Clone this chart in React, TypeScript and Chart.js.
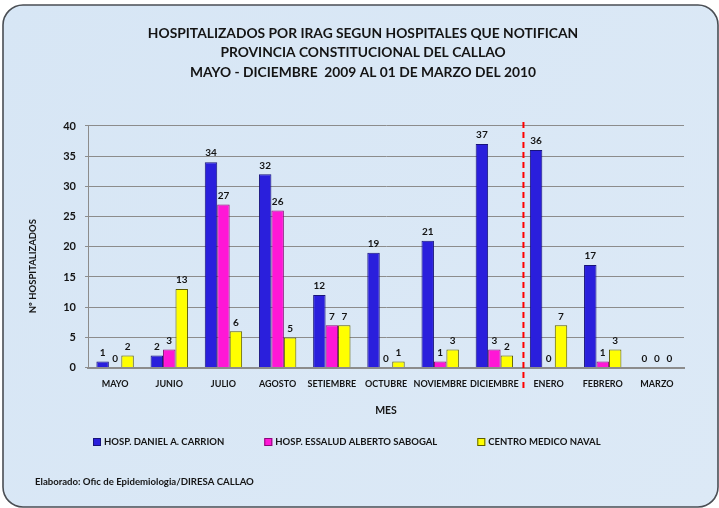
import React, { useEffect, useRef } from "react";
import { Chart, registerables } from "chart.js";

Chart.register(...registerables);

const categories = ["MAYO", "JUNIO", "JULIO", "AGOSTO", "SETIEMBRE", "OCTUBRE", "NOVIEMBRE", "DICIEMBRE", "ENERO", "FEBRERO", "MARZO"];
const carrion = [1, 2, 34, 32, 12, 19, 21, 37, 36, 17, 0];
const sabogal = [0, 3, 27, 26, 7, 0, 1, 3, 0, 1, 0];
const naval = [2, 13, 6, 5, 7, 1, 3, 2, 7, 3, 0];
const seriesNames = ["HOSP. DANIEL A. CARRION", "HOSP. ESSALUD ALBERTO SABOGAL", "CENTRO MEDICO NAVAL"];
const titleLines = [
  "HOSPITALIZADOS POR IRAG SEGUN HOSPITALES QUE NOTIFICAN",
  "PROVINCIA CONSTITUCIONAL DEL CALLAO",
  "MAYO - DICIEMBRE  2009 AL 01 DE MARZO DEL 2010",
];
const yAxisTitle = "Nº HOSPITALIZADOS";
const footerText = "Elaborado: Ofic de Epidemiologia/DIRESA CALLAO";
const dividerAfterIndex = 7;

const FONT = "Lato, 'Open Sans', sans-serif";
const INK = "#141414";

const backgroundPlugin = {
  id: "bgPanel",
  beforeDraw(chart: any) {
    const { ctx, width, height } = chart;
    ctx.save();
    ctx.fillStyle = "#ffffff";
    ctx.fillRect(0, 0, width, height);
    const x = 3, y = 5, w = width - 4, h = height - 6, r = 20;
    ctx.beginPath();
    ctx.moveTo(x + r, y);
    ctx.arcTo(x + w, y, x + w, y + r, r);
    ctx.arcTo(x + w, y + h, x + w - r, y + h, r);
    ctx.arcTo(x, y + h, x, y + h - r, r);
    ctx.arcTo(x, y, x + r, y, r);
    ctx.closePath();
    const g = ctx.createLinearGradient(0, 0, width, height);
    g.addColorStop(0, "#d7e6f5");
    g.addColorStop(1, "#dce9f6");
    ctx.fillStyle = g;
    ctx.fill();
    ctx.lineWidth = 1.6;
    ctx.strokeStyle = "#4a4e54";
    ctx.stroke();
    ctx.restore();
  },
};

const valueLabelPlugin = {
  id: "valueLabels",
  afterDatasetsDraw(chart: any) {
    const { ctx } = chart;
    ctx.save();
    ctx.font = `bold 10px ${FONT}`;
    ctx.fillStyle = INK;
    ctx.textAlign = "center";
    ctx.textBaseline = "bottom";
    chart.data.datasets.forEach((ds: any, i: number) => {
      const meta = chart.getDatasetMeta(i);
      meta.data.forEach((bar: any, j: number) => {
        ctx.fillText(String(ds.data[j]), bar.x, bar.y - 4);
      });
    });
    ctx.restore();
  },
};

const dividerPlugin = {
  id: "divider",
  afterDraw(chart: any) {
    const { ctx } = chart;
    const xs = chart.scales.x;
    const x = (xs.getPixelForValue(dividerAfterIndex) + xs.getPixelForValue(dividerAfterIndex + 1)) / 2 + 2;
    const area = chart.chartArea;
    ctx.save();
    ctx.strokeStyle = "#ff0000";
    ctx.lineWidth = 2;
    ctx.setLineDash([6, 4]);
    ctx.beginPath();
    ctx.moveTo(x, area.top - 4);
    ctx.lineTo(x, area.bottom + 24);
    ctx.stroke();
    ctx.restore();
  },
};

const textPlugin = {
  id: "extraText",
  afterDraw(chart: any) {
    const { ctx } = chart;
    const area = chart.chartArea;
    // y axis title
    ctx.save();
    ctx.translate(33, area.top + (area.bottom - area.top) * 0.58);
    ctx.rotate(-Math.PI / 2);
    ctx.font = `bold 9.5px ${FONT}`;
    ctx.fillStyle = INK;
    ctx.textAlign = "center";
    ctx.textBaseline = "middle";
    ctx.fillText(yAxisTitle, 0, 0);
    ctx.restore();

    // legend
    ctx.save();
    ctx.font = `bold 9.5px ${FONT}`;
    ctx.textBaseline = "middle";
    ctx.textAlign = "left";
    let x = 93;
    const yc = 442;
    chart.data.datasets.forEach((ds: any) => {
      ctx.fillStyle = ds.backgroundColor;
      ctx.fillRect(x, yc - 4, 8, 8);
      ctx.strokeStyle = ds.borderColor;
      ctx.lineWidth = 1;
      ctx.strokeRect(x + 0.5, yc - 3.5, 7, 7);
      ctx.fillStyle = INK;
      ctx.fillText(ds.label, x + 11, yc);
      x += 11 + ctx.measureText(ds.label).width + 40;
    });
    ctx.restore();

    // footer
    ctx.save();
    ctx.font = `bold 9.6px ${FONT}`;
    ctx.fillStyle = INK;
    ctx.textBaseline = "middle";
    ctx.textAlign = "left";
    ctx.fillText(footerText, 35, 482);
    ctx.restore();
  },
};

export default function App() {
  const ref = useRef<HTMLCanvasElement>(null);
  useEffect(() => {
    document.body.style.margin = "0";
    const canvas = ref.current!;
    const chart = new Chart(canvas, {
      type: "bar",
      data: {
        labels: categories,
        datasets: [
          { label: seriesNames[0], data: carrion, backgroundColor: "#2a1fdc", borderColor: "#17137a", borderWidth: 1 },
          { label: seriesNames[1], data: sabogal, backgroundColor: "#ff17d6", borderColor: "#8a0a78", borderWidth: 1 },
          { label: seriesNames[2], data: naval, backgroundColor: "#ffff00", borderColor: "#5c5c00", borderWidth: 1 },
        ],
      },
      options: {
        animation: false,
        responsive: false,
        maintainAspectRatio: false,
        layout: { padding: { left: 42, right: 35, top: 24, bottom: 91 } },
        datasets: { bar: { categoryPercentage: 0.69, barPercentage: 1 } },
        scales: {
          x: {
            grid: { display: false },
            border: { color: "#8c8c8c", width: 2 },
            ticks: { color: INK, font: { family: FONT, weight: "bold", size: 9 }, padding: 3, maxRotation: 0, autoSkip: false },
            title: { display: true, text: "MES", color: INK, font: { family: FONT, weight: "bold", size: 10.5 }, padding: { top: 12, bottom: 0 } },
          },
          y: {
            min: 0,
            max: 40,
            afterFit(scale: any) {
              scale.width = 46;
            },
            ticks: { stepSize: 5, color: INK, font: { family: FONT, weight: "bold", size: 11 }, padding: 9 },
            grid: { color: "#8c8c8c", tickLength: 3, lineWidth: 1 },
            border: { color: "#8c8c8c", width: 1 },
          },
        },
        plugins: {
          title: {
            display: true,
            text: titleLines,
            color: INK,
            font: { family: FONT, weight: "bold", size: 13.8, lineHeight: 1.4 },
            padding: { top: 0, bottom: 44 },
          },
          legend: { display: false },
          tooltip: { enabled: false },
        },
      },
      plugins: [backgroundPlugin, valueLabelPlugin, dividerPlugin, textPlugin],
    });
    return () => chart.destroy();
  }, []);
  return <canvas ref={ref} width={719} height={508} style={{ display: "block" }} />;
}
